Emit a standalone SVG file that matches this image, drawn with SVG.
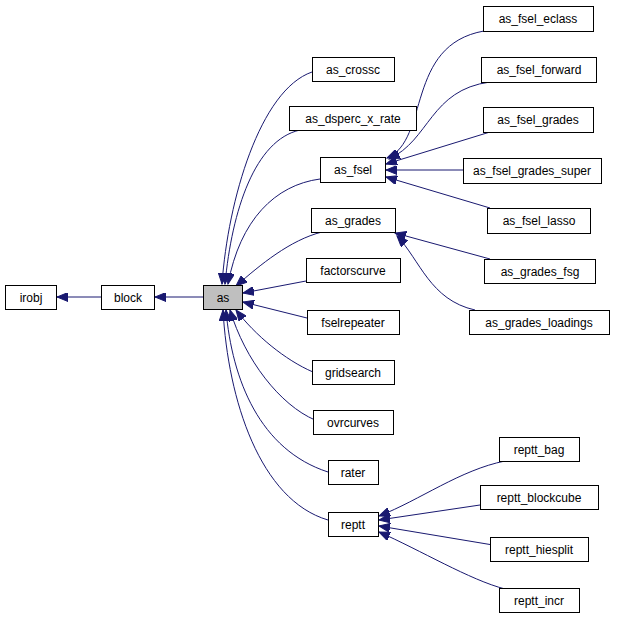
<svg xmlns="http://www.w3.org/2000/svg" width="619" height="620" viewBox="0 0 619 620">
<style>
.n rect{fill:#fff;stroke:#000;stroke-width:1}
.n text{font-family:"Liberation Sans",Arial,sans-serif;font-size:12px;text-anchor:middle;fill:#000}
#edges path{fill:none;stroke:#191970;stroke-width:1;marker-start:url(#ah)}
</style>
<defs>
<marker id="ah" markerUnits="userSpaceOnUse" markerWidth="12" markerHeight="9" refX="11" refY="4.5" orient="auto-start-reverse">
<path d="M0,0 L11,4.5 L0,9 z" fill="#191970" stroke="#191970"/>
</marker>
</defs>
<rect width="619" height="620" fill="#fff"/>
<g id="edges">
<path d="M57,297 L101,297"/>
<path d="M155,297 L203,297"/>
<path d="M222,284 C228,200 260,90 312,72"/>
<path d="M225,284 C232,210 255,140 300,130"/>
<path d="M228,284 C240,220 275,185 320,179"/>
<path d="M236,286 C260,265 290,240 322,232"/>
<path d="M243,293 L306,281"/>
<path d="M243,302 L307,318"/>
<path d="M236,310 C255,335 285,360 313,372"/>
<path d="M230,310 C245,360 280,405 315,420"/>
<path d="M226,310 C232,380 260,450 328,472"/>
<path d="M223,310 C228,400 260,500 328,520"/>
<path d="M387,158 C430,140 405,45 484,31"/>
<path d="M389,159 C430,140 430,90 490,82"/>
<path d="M386,164 L490,132"/>
<path d="M386,170 L463,170"/>
<path d="M386,177 L490,208"/>
<path d="M395,233 L490,259"/>
<path d="M397,236 C420,260 430,300 475,310"/>
<path d="M379,516 C420,500 460,470 505,461"/>
<path d="M379,520 L480,505"/>
<path d="M379,526 L493,545"/>
<path d="M379,532 C420,550 470,580 505,589"/>
</g>
<g id="irobj" class="n"><rect x="5.5" y="285.5" width="51" height="24"/><text x="31" y="302">irobj</text></g>
<g id="block" class="n"><rect x="101.5" y="285.5" width="53" height="24"/><text x="128" y="302">block</text></g>
<g id="as" class="n"><rect x="203.5" y="285.5" width="39" height="24" style="fill:#bfbfbf"/><text x="223" y="302">as</text></g>
<g id="as_crossc" class="n"><rect x="312.5" y="57.5" width="82" height="24"/><text x="353" y="74">as_crossc</text></g>
<g id="as_dsperc_x_rate" class="n"><rect x="289.5" y="106.5" width="127" height="24"/><text x="353" y="123">as_dsperc_x_rate</text></g>
<g id="as_fsel" class="n"><rect x="320.5" y="157.5" width="65" height="25"/><text x="353" y="174">as_fsel</text></g>
<g id="as_grades" class="n"><rect x="311.5" y="208.5" width="84" height="24"/><text x="353" y="225">as_grades</text></g>
<g id="factorscurve" class="n"><rect x="306.5" y="258.5" width="94" height="24"/><text x="353" y="275">factorscurve</text></g>
<g id="fselrepeater" class="n"><rect x="307.5" y="310.5" width="92" height="24"/><text x="353" y="327">fselrepeater</text></g>
<g id="gridsearch" class="n"><rect x="312.5" y="360.5" width="82" height="24"/><text x="353" y="377">gridsearch</text></g>
<g id="ovrcurves" class="n"><rect x="313.5" y="410.5" width="80" height="24"/><text x="353" y="427">ovrcurves</text></g>
<g id="rater" class="n"><rect x="328.5" y="460.5" width="50" height="24"/><text x="353" y="477">rater</text></g>
<g id="reptt" class="n"><rect x="328.5" y="512.5" width="50" height="24"/><text x="353" y="529">reptt</text></g>
<g id="as_fsel_eclass" class="n"><rect x="483.5" y="6.5" width="110" height="25"/><text x="538" y="23">as_fsel_eclass</text></g>
<g id="as_fsel_forward" class="n"><rect x="481.5" y="57.5" width="115" height="25"/><text x="539" y="74">as_fsel_forward</text></g>
<g id="as_fsel_grades" class="n"><rect x="483.5" y="107.5" width="110" height="25"/><text x="538" y="124">as_fsel_grades</text></g>
<g id="as_fsel_grades_super" class="n"><rect x="463.5" y="158.5" width="138" height="25"/><text x="532" y="175">as_fsel_grades_super</text></g>
<g id="as_fsel_lasso" class="n"><rect x="487.5" y="208.5" width="103" height="25"/><text x="539" y="225">as_fsel_lasso</text></g>
<g id="as_grades_fsg" class="n"><rect x="484.5" y="259.5" width="111" height="24"/><text x="540" y="276">as_grades_fsg</text></g>
<g id="as_grades_loadings" class="n"><rect x="469.5" y="310.5" width="140" height="24"/><text x="539" y="327">as_grades_loadings</text></g>
<g id="reptt_bag" class="n"><rect x="499.5" y="437.5" width="80" height="24"/><text x="539" y="454">reptt_bag</text></g>
<g id="reptt_blockcube" class="n"><rect x="480.5" y="485.5" width="118" height="24"/><text x="539" y="502">reptt_blockcube</text></g>
<g id="reptt_hiesplit" class="n"><rect x="490.5" y="537.5" width="98" height="24"/><text x="539" y="554">reptt_hiesplit</text></g>
<g id="reptt_incr" class="n"><rect x="499.5" y="588.5" width="80" height="24"/><text x="539" y="605">reptt_incr</text></g>
</svg>
